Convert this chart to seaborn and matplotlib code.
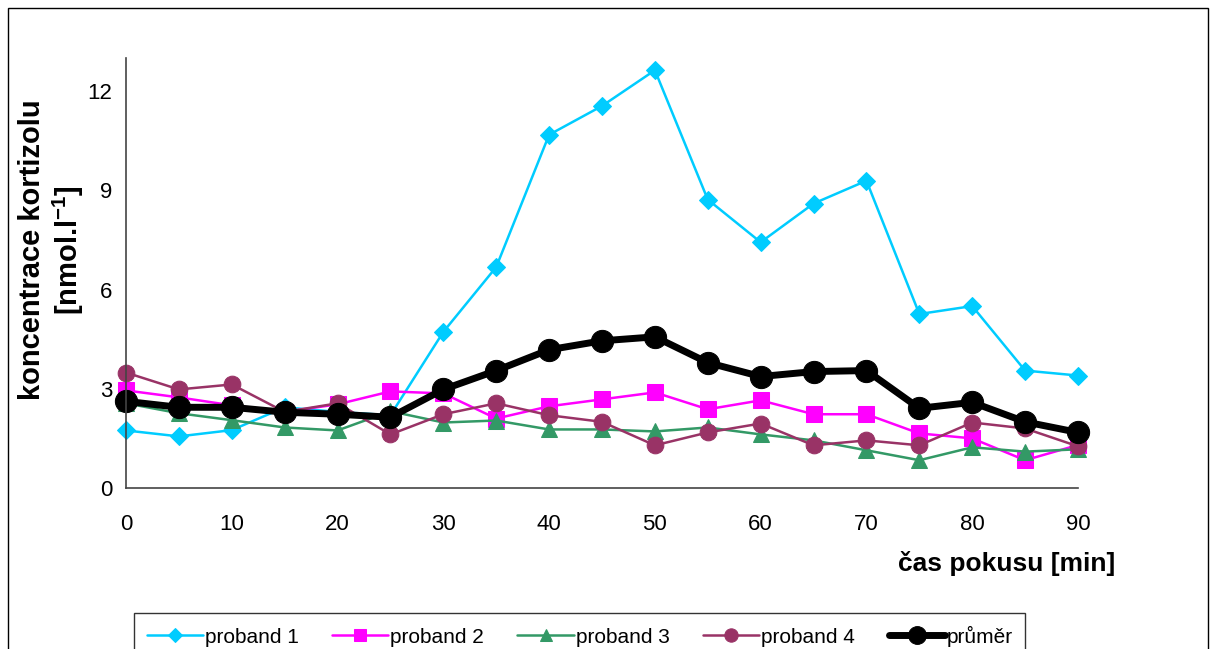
import matplotlib
matplotlib.use("Agg")
import matplotlib.pyplot as plt
from matplotlib.patches import Rectangle
import numpy as np
import pandas as pd
import seaborn as sns

# cas pokusu [min]
cas = [0, 5, 10, 15, 20, 25, 30, 35, 40, 45, 50, 55, 60, 65, 70, 75, 80, 85, 90]

proband1 = [1.74, 1.56, 1.75, 2.44, 2.30, 2.20, 4.72, 6.68, 10.68, 11.55, 12.63,
            8.72, 7.43, 8.60, 9.29, 5.26, 5.50, 3.55, 3.40]
proband2 = [2.95, 2.74, 2.50, 2.30, 2.53, 2.92, 2.86, 2.10, 2.47, 2.68, 2.89,
            2.38, 2.65, 2.23, 2.23, 1.65, 1.50, 0.84, 1.30]
proband3 = [2.56, 2.26, 2.05, 1.83, 1.74, 2.32, 1.98, 2.04, 1.77, 1.77, 1.71,
            1.83, 1.62, 1.44, 1.14, 0.84, 1.23, 1.10, 1.17]
proband4 = [3.49, 2.98, 3.13, 2.30, 2.56, 1.62, 2.23, 2.56, 2.20, 2.00, 1.29,
            1.68, 1.95, 1.29, 1.44, 1.29, 1.98, 1.80, 1.26]
prumer = [2.62, 2.44, 2.44, 2.29, 2.23, 2.14, 2.98, 3.55, 4.18, 4.45, 4.57,
          3.79, 3.37, 3.52, 3.55, 2.41, 2.59, 2.00, 1.68]

nazvy = ["proband 1", "proband 2", "proband 3", "proband 4", "průměr"]

df = pd.DataFrame({"cas": cas, "proband 1": proband1, "proband 2": proband2,
                   "proband 3": proband3, "proband 4": proband4, "průměr": prumer})
df_melt = pd.melt(df, id_vars=["cas"], value_vars=nazvy,
                  var_name="serie", value_name="kortizol")

styly = {
    "proband 1": dict(color="#00CCFF", marker="D", markersize=9, linewidth=1.8),
    "proband 2": dict(color="#FF00FF", marker="s", markersize=11, linewidth=1.8),
    "proband 3": dict(color="#339966", marker="^", markersize=11, linewidth=1.8),
    "proband 4": dict(color="#993366", marker="o", markersize=12, linewidth=1.8),
    "průměr": dict(color="black", marker="o", markersize=16, linewidth=5),
}

sns.set_style("white")
plt.rcParams["font.family"] = ["Liberation Sans", "DejaVu Sans"]
plt.rcParams["mathtext.default"] = "regular"
plt.rcParams["text.color"] = "black"

fig = plt.figure(figsize=(12.16, 6.49), dpi=100)
ax = fig.add_axes([126 / 1216, 161 / 649, 952 / 1216, 430 / 649])

for s in nazvy:
    st = styly[s]
    sns.lineplot(data=df_melt[df_melt["serie"] == s], x="cas", y="kortizol",
                 ax=ax, label=s, color=st["color"], marker=st["marker"],
                 markersize=st["markersize"], linewidth=st["linewidth"],
                 markeredgecolor=st["color"], clip_on=False)

ax.set_xlim(0, 90)
ax.set_ylim(0, 13)
ax.set_xticks(range(0, 91, 10))
ax.set_yticks([0, 3, 6, 9, 12])
ax.set_xlabel("")
ax.set_ylabel("")
for side in ["top", "right"]:
    ax.spines[side].set_visible(False)
for side in ["left", "bottom"]:
    ax.spines[side].set_color("#444444")
    ax.spines[side].set_linewidth(1.2)
ax.tick_params(axis="both", direction="out", length=5, width=1.2,
               color="#444444", labelcolor="black", labelsize=16, pad=5)
ax.tick_params(axis="x", length=6, pad=13)

fig.text(52 / 1216, 1 - 250 / 649, "koncentrace kortizolu\n[nmol.l$^{-1}$]",
         rotation=90, ha="center", va="center", multialignment="center",
         fontsize=21, fontweight="bold", linespacing=1.2)
fig.text(1115 / 1216, 1 - 563 / 649, "čas pokusu [min]", ha="right",
         va="center", fontsize=19, fontweight="bold")

leg = ax.legend(loc="upper left", bbox_to_anchor=(134 / 1216, 1 - 613 / 649),
                bbox_transform=fig.transFigure, ncol=5, fontsize=15,
                frameon=True, fancybox=False, edgecolor="black",
                handlelength=2.7, handletextpad=0.1, columnspacing=1.6,
                borderpad=0.6, borderaxespad=0, markerscale=0.8)
leg.get_frame().set_linewidth(1.0)

fig.patches.append(Rectangle((8 / 1216, -0.05), 1200 / 1216, 1 - 8 / 649 + 0.05,
                             transform=fig.transFigure, fill=False,
                             edgecolor="black", linewidth=1.0))

plt.savefig("out.png", dpi=100)
